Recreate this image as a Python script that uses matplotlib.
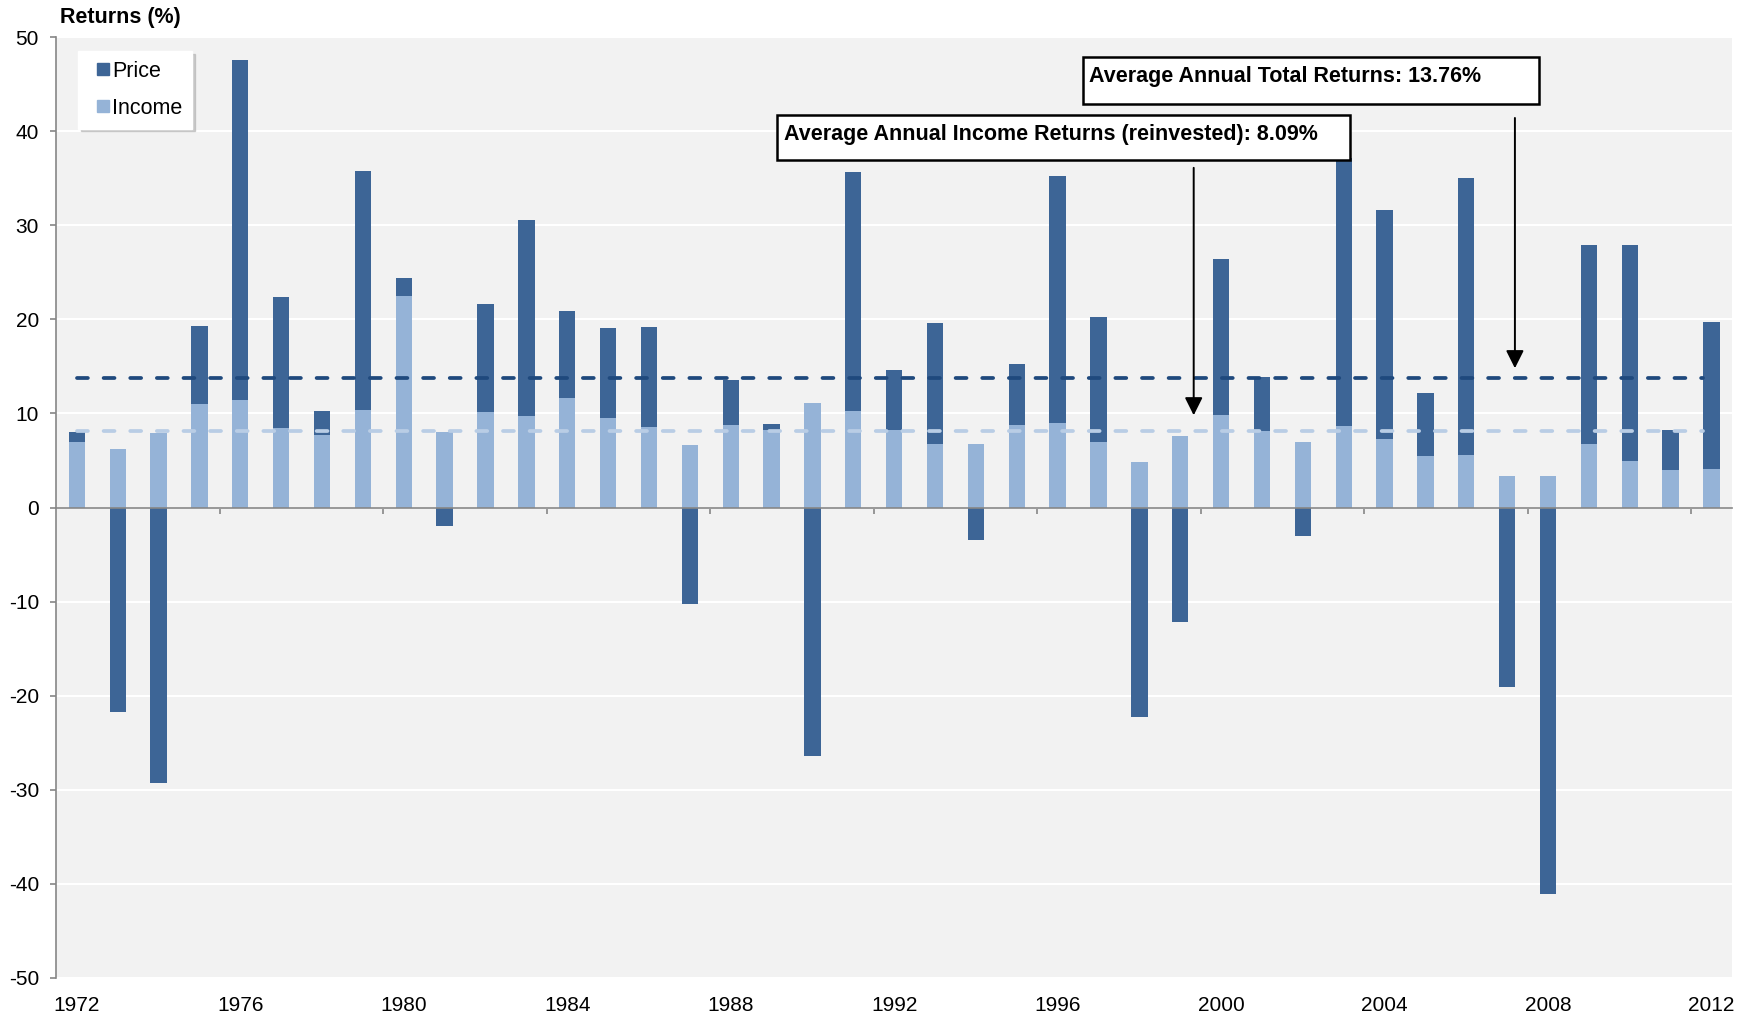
import numpy as np
import matplotlib
matplotlib.use("Agg")
import matplotlib.pyplot as plt
from matplotlib.lines import Line2D
from matplotlib.patches import Rectangle

plt.rcParams['font.family'] = ['Liberation Sans', 'DejaVu Sans']
plt.rcParams['axes.unicode_minus'] = False

# ----------------------------------------------------------
# data
# ----------------------------------------------------------
years = list(range(1972, 2013))
income = [6.95, 6.2, 7.9, 11.0, 11.4, 8.44, 7.7, 10.35, 22.5, 8.0,
          10.1, 9.7, 11.66, 9.5, 8.6, 6.63, 8.76, 8.26, 11.1, 10.24,
          8.19, 6.7, 6.7, 8.72, 8.94, 6.95, 4.82, 7.59, 9.85, 8.15,
          6.92, 8.65, 7.24, 5.5, 5.57, 3.31, 3.38, 6.72, 4.89, 3.97,
          4.08]
price = [1.03, -21.77, -29.28, 8.28, 36.2, 13.96, 2.6, 25.45, 1.9, -1.98,
         11.5, 20.9, 9.24, 9.57, 10.54, -10.3, 4.74, 0.57, -26.45, 25.46,
         6.38, 12.9, -3.5, 6.52, 26.31, 13.28, -22.28, -12.2, 16.52, 5.75,
         -3.07, 28.45, 24.33, 6.66, 29.47, -19.05, -41.09, 21.22, 23.01, 4.28,
         15.59]
avg_total = 13.76
avg_income = 8.09
label_years = years[::4]

DARK = '#3d6596'
LIGHT = '#95b3d7'
DARK_LINE = '#1f497d'
LIGHT_LINE = '#b9cde5'
GREY = '#868686'

x = np.arange(len(years))
income = np.array(income)
price = np.array(price)
price_bottom = np.where(price > 0, income, 0)

# ----------------------------------------------------------
# figure
# ----------------------------------------------------------
fig = plt.figure(figsize=(17.51, 10.15), dpi=100)
ax = fig.add_axes([0.0322, 0.0365, 0.9569, 0.927])
ax.set_facecolor('#f2f2f2')

ax.bar(x, income, width=0.4, color=LIGHT, zorder=2, label='Income')
ax.bar(x, price, width=0.4, bottom=price_bottom, color=DARK, zorder=2, label='Price')

# average lines (stop just short of the last bar, as in the original)
line_x = [x[0], x[-1] - 0.2]
ax.plot(line_x, [avg_total, avg_total], color=DARK_LINE, lw=2.7,
        dashes=(2.9, 4.2), dash_capstyle='round', zorder=3)
ax.plot(line_x, [avg_income, avg_income], color=LIGHT_LINE, lw=2.7,
        dashes=(2.9, 4.2), dash_capstyle='round', zorder=3)

ax.set_xlim(-0.5, len(years) - 0.5)
ax.set_ylim(-50, 50)
ax.set_yticks(np.arange(-50, 51, 10))
ax.yaxis.grid(True, color='white', lw=1.5)
ax.set_axisbelow(True)

for s in ['top', 'right']:
    ax.spines[s].set_visible(False)
ax.spines['left'].set_color(GREY)
ax.spines['left'].set_linewidth(1.2)
ax.spines['bottom'].set_position(('data', 0))
ax.spines['bottom'].set_color(GREY)
ax.spines['bottom'].set_linewidth(1.2)
ax.spines['bottom'].set_zorder(4)

# tick marks on the zero line between category groups
ax.set_xticks(np.arange(3.5, len(years), 4))
ax.tick_params(axis='x', direction='out', length=4.5, width=1.2, color=GREY,
               labelbottom=False)
ax.tick_params(axis='y', direction='out', length=4.5, width=1.2, color=GREY,
               labelsize=15, pad=8)

# year labels at the bottom of the plot
sec = ax.secondary_xaxis('bottom')
sec.spines['bottom'].set_visible(False)
sec.set_xticks([years.index(y) for y in label_years])
sec.set_xticklabels([str(y) for y in label_years])
sec.tick_params(axis='x', length=0, labelsize=15, pad=13)

fig.text(0.0345, 0.972, 'Returns (%)', fontsize=15.5, fontweight='bold',
         ha='left', va='bottom')

# legend
handles = [Line2D([], [], ls='none', marker='s', ms=8, color=DARK, label='Price'),
           Line2D([], [], ls='none', marker='s', ms=8, color=LIGHT, label='Income')]
leg = ax.legend(handles=handles, loc='upper left', bbox_to_anchor=(0.0129, 0.985),
                borderaxespad=0, fontsize=15.5, frameon=True, fancybox=False,
                shadow={'color': '#b0b0b0', 'alpha': 0.6}, handlelength=1.44,
                handletextpad=-0.3, labelspacing=0.75, borderpad=0.45,
                edgecolor='white')
leg.get_frame().set_facecolor('white')

# annotation boxes
ax.add_patch(Rectangle((24.62, 42.87), 11.15, 4.99, facecolor='white',
                       edgecolor='black', lw=1.8, zorder=6))
ax.text(24.77, 45.2, 'Average Annual Total Returns: 13.76%', fontsize=15.5,
        fontweight='bold', ha='left', va='baseline', zorder=7)
ax.add_patch(Rectangle((17.13, 36.93), 14.02, 4.77, facecolor='white',
                       edgecolor='black', lw=1.8, zorder=6))
ax.text(17.30, 39.04, 'Average Annual Income Returns (reinvested): 8.09%',
        fontsize=15.5, fontweight='bold', ha='left', va='baseline', zorder=7)

ax.annotate('', xy=(27.33, 9.8), xytext=(27.33, 36.1),
            arrowprops=dict(arrowstyle='-|>', color='black', lw=1.4,
                            mutation_scale=27, shrinkA=0, shrinkB=0), zorder=6)
ax.annotate('', xy=(35.19, 14.8), xytext=(35.19, 41.4),
            arrowprops=dict(arrowstyle='-|>', color='black', lw=1.4,
                            mutation_scale=27, shrinkA=0, shrinkB=0), zorder=6)

fig.savefig('out.png', dpi=100, facecolor='white')
